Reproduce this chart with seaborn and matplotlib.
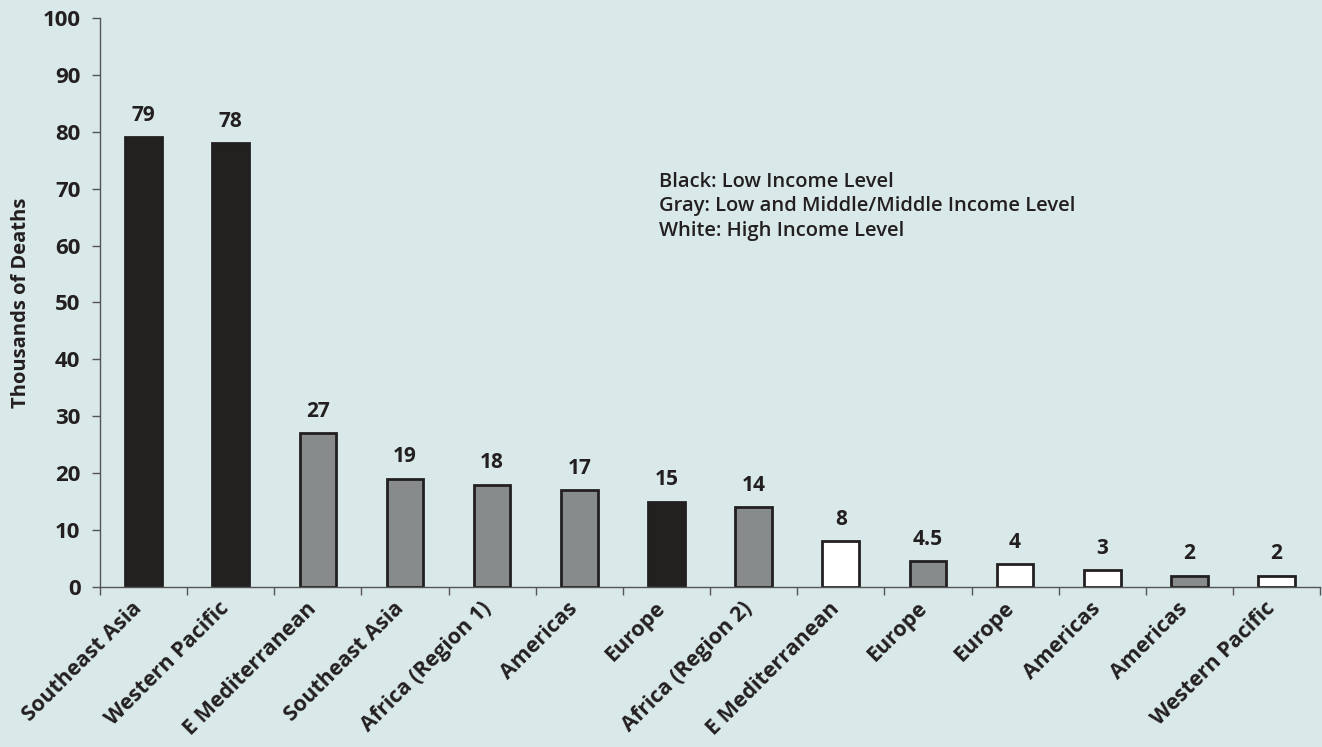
import pandas as pd
import numpy as np
import matplotlib.pyplot as plt
import matplotlib.transforms as mtransforms
import seaborn as sns

# regions (names repeat, so we plot by position and label afterwards)
regions = ["Southeast Asia", "Western Pacific", "E Mediterranean", "Southeast Asia",
           "Africa (Region 1)", "Americas", "Europe", "Africa (Region 2)",
           "E Mediterranean", "Europe", "Europe", "Americas", "Americas", "Western Pacific"]
deaths = [79, 78, 27, 19, 18, 17, 15, 14, 8, 4.5, 4, 3, 2, 2]
value_labels = ["79", "78", "27", "19", "18", "17", "15", "14", "8", "4.5", "4", "3", "2", "2"]
income = ["Low", "Low", "Middle", "Middle", "Middle", "Middle", "Low", "Middle",
          "High", "Middle", "High", "High", "Middle", "High"]

bg = "#d9e8e8"
ink = "#231f20"
colors = {"Low": ink, "Middle": "#868c8c", "High": "#ffffff"}

df = pd.DataFrame({"pos": range(len(regions)), "deaths": deaths, "income": income})

sns.set_style("ticks")
plt.rcParams["font.family"] = ["Open Sans", "DejaVu Sans"]

fig = plt.figure(figsize=(13.22, 7.47), dpi=100, facecolor=bg)
ax = fig.add_axes([0.0756, 0.2142, 0.923, 0.7618])
ax.set_facecolor(bg)

sns.barplot(data=df, x="pos", y="deaths", hue="income", palette=colors,
            dodge=False, width=0.42, edgecolor=ink, linewidth=2,
            legend=False, ax=ax)

# value labels above bars
for i, (v, lab) in enumerate(zip(deaths, value_labels)):
    ax.text(i, v + 2.0, lab, ha="center", va="bottom", fontsize=15,
            fontweight="bold", color=ink)

ax.set_xlim(-0.5, len(regions) - 0.5)
ax.set_ylim(0, 100)
ax.set_yticks(np.arange(0, 101, 10))
ax.tick_params(axis="y", labelsize=16, length=6, width=1, color="#555555",
               labelcolor=ink, pad=8)
for t in ax.get_yticklabels():
    t.set_fontweight("bold")

# excel-like ticks between categories
ax.set_xticks(range(len(regions)))
ax.set_xticklabels(regions, rotation=45, ha="right", rotation_mode="anchor",
                   fontsize=15.5, fontweight="bold", color=ink)
ax.tick_params(axis="x", which="major", length=0, pad=8)
# nudge labels a bit left like the original
shift = mtransforms.ScaledTranslation(-12 / 100, 0, fig.dpi_scale_trans)
for t in ax.get_xticklabels():
    t.set_transform(t.get_transform() + shift)
ax.set_xticks(np.arange(-0.5, len(regions), 1), minor=True)
ax.tick_params(axis="x", which="minor", length=6, width=1, color="#555555")

for s in ["top", "right"]:
    ax.spines[s].set_visible(False)
for s in ["left", "bottom"]:
    ax.spines[s].set_color("#555555")
    ax.spines[s].set_linewidth(1)

ax.set_xlabel("")
ax.set_ylabel("Thousands of Deaths", fontsize=14.5, fontweight="bold",
              color=ink, labelpad=8)

ax.text(0.458, 0.73, "Black: Low Income Level\nGray: Low and Middle/Middle Income Level\nWhite: High Income Level",
        transform=ax.transAxes, fontsize=14.5, fontweight="semibold", va="top", ha="left",
        color=ink, linespacing=1.3)

fig.savefig("out.png", dpi=100, facecolor=bg)
